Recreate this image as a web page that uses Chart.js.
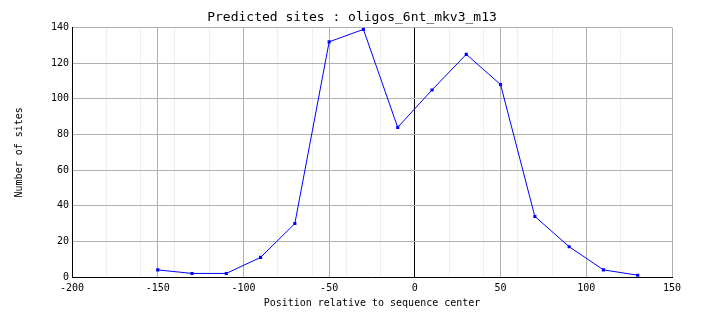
<!DOCTYPE html>
<html>
<head>
<meta charset="utf-8">
<script src="https://cdn.jsdelivr.net/npm/chart.js@4"></script>
<style>
  body { margin: 0; background: #ffffff; }
  canvas { display: block; }
</style>
</head>
<body>
<canvas id="sites-chart" width="704" height="328"></canvas>
<script>
// --------------- predicted sites position profile --------------- //

const positions = [-150, -130, -110, -90, -70, -50, -30, -10, 10, 30, 50, 70, 90, 110, 130];
const siteCounts = [4, 2, 2, 11, 30, 132, 139, 84, 105, 125, 108, 34, 17, 4, 1];

const xMin = -200;
const xMax = 150;
const yMin = 0;
const yMax = 140;

const monoFont = "'DejaVu Sans Mono', 'Liberation Mono', monospace";

const sitesData = {
  datasets: [{
    label: 'Number of sites',
    data: positions.map((p, i) => ({ x: p, y: siteCounts[i] })),
    borderColor: '#0000ff',
    backgroundColor: '#0000ff',
    borderWidth: 1,
    pointStyle: 'rect',
    pointRadius: 2.2,
    pointBorderWidth: 0,
    tension: 0,
  }]
};

const sitesOptions = {
  responsive: false,
  animation: false,
  layout: {
    padding: 0
  },
  plugins: {
    legend: {
      display: false
    },
    tooltip: {
      enabled: false
    },
    title: {
      display: true,
      text: 'Predicted sites : oligos_6nt_mkv3_m13',
      color: '#000000',
      font: { family: monoFont, size: 13, weight: 'normal' },
      padding: { top: 10, bottom: 2 },
    }
  },
  scales: {
    xMinor: {
      type: 'linear',
      position: 'bottom',
      min: xMin,
      max: xMax,
      ticks: { display: false, stepSize: 20 },
      grid: { color: '#eeeeee', drawTicks: false, z: -2 },
      border: { display: false },
      afterFit: (scale) => { scale.height = 0; },
    },
    x: {
      type: 'linear',
      position: 'bottom',
      min: xMin,
      max: xMax,
      ticks: {
        stepSize: 50,
        color: '#000000',
        padding: 5,
        maxRotation: 0,
        font: { family: monoFont, size: 10 },
      },
      grid: {
        drawTicks: false,
        z: -1,
        color: (ctx) => (ctx.tick && ctx.tick.value === 0) ? '#000000' : '#b0b0b0',
      },
      border: { color: '#000000', width: 1 },
      title: {
        display: true,
        text: 'Position relative to sequence center',
        color: '#000000',
        font: { family: monoFont, size: 10 },
        padding: { top: 0, bottom: 19 },
      },
      afterFit: (scale) => { scale.height = 51; },
    },
    y: {
      min: yMin,
      max: yMax,
      ticks: {
        stepSize: 20,
        color: '#000000',
        padding: 3,
        font: { family: monoFont, size: 10 },
      },
      grid: { color: '#b0b0b0', drawTicks: false, z: -1 },
      border: { color: '#000000', width: 1 },
      title: {
        display: true,
        text: 'Number of sites',
        color: '#000000',
        font: { family: monoFont, size: 10 },
        padding: { top: 13, bottom: 0 },
      },
      afterFit: (scale) => { scale.width = 72; },
    },
    // empty right margin so the title is centred on the whole canvas
    yRight: {
      position: 'right',
      min: yMin,
      max: yMax,
      ticks: { display: false },
      grid: { display: false },
      border: { display: false },
      afterFit: (scale) => { scale.width = 32; },
    }
  }
};

const sitesConfig = {
  type: 'line',
  data: sitesData,
  options: sitesOptions
};

const sitesChart = new Chart(
  document.getElementById('sites-chart'),
  sitesConfig
);
</script>
</body>
</html>
